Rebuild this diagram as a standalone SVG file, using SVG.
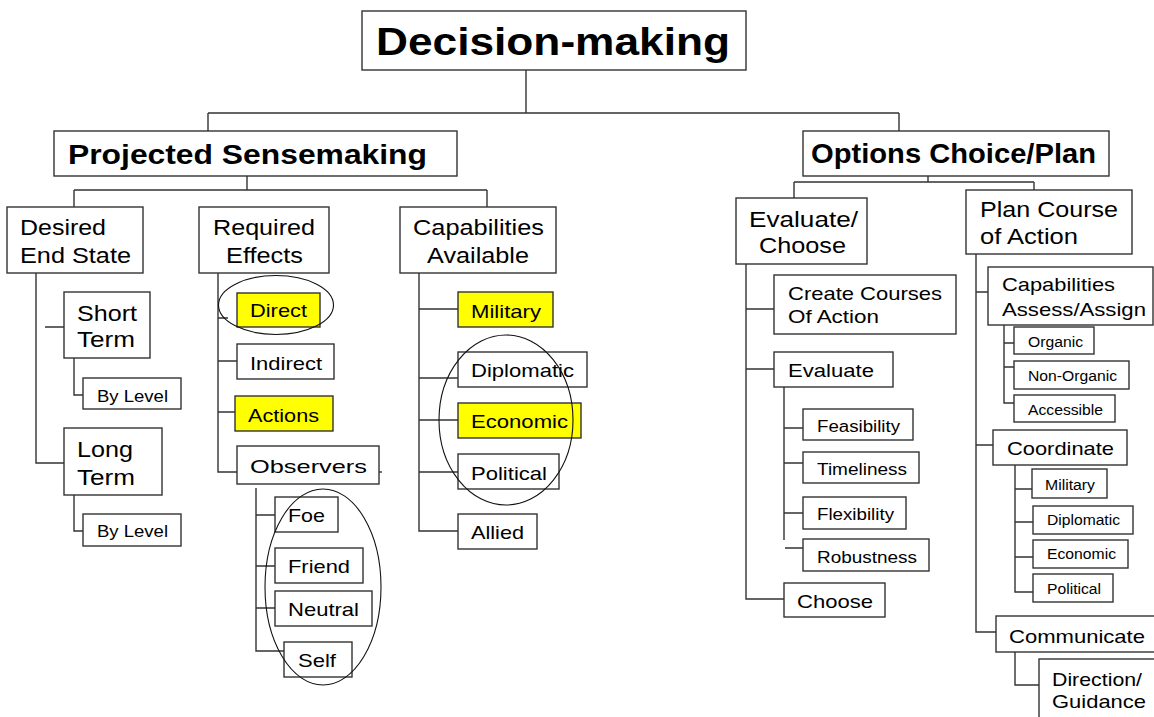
<svg xmlns="http://www.w3.org/2000/svg" width="1154" height="717" viewBox="0 0 1154 717">
  <style>
    .b { fill: #ffffff; stroke: #333333; stroke-width: 1.4; }
    .y { fill: #ffff00; stroke: #333333; stroke-width: 1.4; }
    .ln { fill: none; stroke: #333333; stroke-width: 1.4; }
    .ring { fill: none; stroke: #111111; stroke-width: 1.1; }
    text { font-family: "Liberation Sans", Arial, sans-serif; fill: #000000; }
    .h1 { font-size: 38px; font-weight: bold; }
    .h2 { font-size: 27px; font-weight: bold; }
    .l2 { font-size: 22px; }
    .l3 { font-size: 19px; }
    .l4 { font-size: 16px; }
    .l5 { font-size: 14px; }
  </style>
  <rect width="1154" height="717" fill="#ffffff"/>

  <!-- connectors -->
  <g id="connectors" class="ln">
    <path d="M526,70 V113 M208,113 H899 M208,113 V131 M899,113 V131"/>
    <path d="M247,176 V190 M74,190 H487 M74,190 V207 M487,190 V207"/>
    <path d="M928,176 V182 M794,182 H1034 M794,182 V199 M1034,182 V190"/>
    <!-- Desired End State -->
    <path d="M36,273 V463 H64 M45,327 H64"/>
    <path d="M74,358 V395 H83 M74,495 V531 H83"/>
    <!-- Required Effects -->
    <path d="M218,273 V472 H237 M218,318 H228 M218,361 H237 M218,412 H237"/>
    <path d="M371,472 H382"/>
    <path d="M256,488 V651 H284 M256,515 H275 M256,566 H275 M256,608 H275"/>
    <!-- Capabilities Available -->
    <path d="M419,273 V531 H458 M419,309 H458 M419,378 H458 M419,420 H458 M419,472 H458"/>
    <!-- Evaluate/Choose -->
    <path d="M746,264 V599 H784 M746,309 H774 M746,369 H774"/>
    <path d="M784,387 V540 M784,428 H803 M784,463 H803 M784,513 H803 M785,548 H803"/>
    <!-- Plan Course of Action -->
    <path d="M976,254 V632 H996 M976,292 H988 M976,445 H993"/>
    <path d="M1004,325 V403 H1014 M1004,343 H1014 M1004,367 H1014"/>
    <path d="M1015,465 V592 H1033 M1015,489 H1032 M1015,522 H1033 M1015,557 H1033"/>
    <path d="M1015,652 V685 H1039"/>
  </g>

  <!-- top level -->
  <g id="decision-making">
    <rect class="b" x="362" y="11" width="384" height="59"/>
    <text class="h1" x="376" y="55" textLength="354" lengthAdjust="spacingAndGlyphs">Decision-making</text>
  </g>
  <g id="projected-sensemaking">
    <rect class="b" x="54" y="131" width="403" height="45"/>
    <text class="h2" x="68" y="164" textLength="359" lengthAdjust="spacingAndGlyphs">Projected Sensemaking</text>
  </g>
  <g id="options-choice-plan">
    <rect class="b" x="803" y="131" width="306" height="45"/>
    <text class="h2" x="811" y="163" textLength="285" lengthAdjust="spacingAndGlyphs">Options Choice/Plan</text>
  </g>

  <!-- Projected Sensemaking branch -->
  <g id="desired-end-state">
    <rect class="b" x="7" y="207" width="136" height="66"/>
    <text class="l2" x="20" y="235" textLength="86" lengthAdjust="spacingAndGlyphs">Desired</text>
    <text class="l2" x="20" y="263" textLength="111" lengthAdjust="spacingAndGlyphs">End State</text>
  </g>
  <g id="short-term">
    <rect class="b" x="64" y="292" width="86" height="66"/>
    <text class="l2" x="77" y="321" textLength="60" lengthAdjust="spacingAndGlyphs">Short</text>
    <text class="l2" x="77" y="347" textLength="58" lengthAdjust="spacingAndGlyphs">Term</text>
  </g>
  <g id="short-by-level">
    <rect class="b" x="83" y="378" width="98" height="31"/>
    <text class="l4" x="97" y="402" textLength="71" lengthAdjust="spacingAndGlyphs">By Level</text>
  </g>
  <g id="long-term">
    <rect class="b" x="64" y="428" width="98" height="67"/>
    <text class="l2" x="77" y="457" textLength="56" lengthAdjust="spacingAndGlyphs">Long</text>
    <text class="l2" x="77" y="485" textLength="58" lengthAdjust="spacingAndGlyphs">Term</text>
  </g>
  <g id="long-by-level">
    <rect class="b" x="83" y="514" width="98" height="32"/>
    <text class="l4" x="97" y="537" textLength="71" lengthAdjust="spacingAndGlyphs">By Level</text>
  </g>

  <g id="required-effects">
    <rect class="b" x="199" y="207" width="130" height="66"/>
    <text class="l2" x="213" y="235" textLength="102" lengthAdjust="spacingAndGlyphs">Required</text>
    <text class="l2" x="226" y="263" textLength="77" lengthAdjust="spacingAndGlyphs">Effects</text>
  </g>
  <g id="direct">
    <rect class="y" x="237" y="293" width="83" height="34"/>
    <text class="l3" x="250" y="317" textLength="57" lengthAdjust="spacingAndGlyphs">Direct</text>
  </g>
  <g id="indirect">
    <rect class="b" x="237" y="344" width="97" height="35"/>
    <text class="l3" x="250" y="370" textLength="72" lengthAdjust="spacingAndGlyphs">Indirect</text>
  </g>
  <g id="actions">
    <rect class="y" x="235" y="396" width="98" height="35"/>
    <text class="l3" x="248" y="422" textLength="71" lengthAdjust="spacingAndGlyphs">Actions</text>
  </g>
  <g id="observers">
    <rect class="b" x="237" y="446" width="142" height="38"/>
    <text class="l3" x="250" y="473" textLength="117" lengthAdjust="spacingAndGlyphs">Observers</text>
  </g>
  <g id="foe">
    <rect class="b" x="275" y="497" width="63" height="35"/>
    <text class="l3" x="288" y="522" textLength="37" lengthAdjust="spacingAndGlyphs">Foe</text>
  </g>
  <g id="friend">
    <rect class="b" x="275" y="548" width="88" height="35"/>
    <text class="l3" x="288" y="573" textLength="62" lengthAdjust="spacingAndGlyphs">Friend</text>
  </g>
  <g id="neutral">
    <rect class="b" x="275" y="591" width="97" height="35"/>
    <text class="l3" x="288" y="616" textLength="71" lengthAdjust="spacingAndGlyphs">Neutral</text>
  </g>
  <g id="self">
    <rect class="b" x="284" y="642" width="68" height="35"/>
    <text class="l3" x="298" y="667" textLength="38" lengthAdjust="spacingAndGlyphs">Self</text>
  </g>

  <g id="capabilities-available">
    <rect class="b" x="400" y="207" width="156" height="66"/>
    <text class="l2" x="413" y="235" textLength="131" lengthAdjust="spacingAndGlyphs">Capabilities</text>
    <text class="l2" x="427" y="263" textLength="102" lengthAdjust="spacingAndGlyphs">Available</text>
  </g>
  <g id="cap-military">
    <rect class="y" x="458" y="292" width="95" height="35"/>
    <text class="l3" x="471" y="318" textLength="70" lengthAdjust="spacingAndGlyphs">Military</text>
  </g>
  <g id="cap-diplomatic">
    <rect class="b" x="458" y="352" width="129" height="35"/>
    <text class="l3" x="471" y="377" textLength="103" lengthAdjust="spacingAndGlyphs">Diplomatic</text>
  </g>
  <g id="cap-economic">
    <rect class="y" x="458" y="403" width="123" height="35"/>
    <text class="l3" x="471" y="428" textLength="97" lengthAdjust="spacingAndGlyphs">Economic</text>
  </g>
  <g id="cap-political">
    <rect class="b" x="458" y="454" width="101" height="35"/>
    <text class="l3" x="471" y="480" textLength="76" lengthAdjust="spacingAndGlyphs">Political</text>
  </g>
  <g id="cap-allied">
    <rect class="b" x="458" y="514" width="79" height="35"/>
    <text class="l3" x="471" y="539" textLength="53" lengthAdjust="spacingAndGlyphs">Allied</text>
  </g>

  <!-- Options Choice/Plan branch -->
  <g id="evaluate-choose">
    <rect class="b" x="736" y="198" width="131" height="66"/>
    <text class="l2" x="749" y="227" textLength="109" lengthAdjust="spacingAndGlyphs">Evaluate/</text>
    <text class="l2" x="759" y="253" textLength="87" lengthAdjust="spacingAndGlyphs">Choose</text>
  </g>
  <g id="create-courses">
    <rect class="b" x="774" y="275" width="182" height="59"/>
    <text class="l3" x="788" y="300" textLength="154" lengthAdjust="spacingAndGlyphs">Create Courses</text>
    <text class="l3" x="788" y="323" textLength="91" lengthAdjust="spacingAndGlyphs">Of Action</text>
  </g>
  <g id="evaluate">
    <rect class="b" x="774" y="352" width="119" height="35"/>
    <text class="l3" x="788" y="377" textLength="86" lengthAdjust="spacingAndGlyphs">Evaluate</text>
  </g>
  <g id="feasibility">
    <rect class="b" x="803" y="409" width="110" height="31"/>
    <text class="l4" x="817" y="432" textLength="83" lengthAdjust="spacingAndGlyphs">Feasibility</text>
  </g>
  <g id="timeliness">
    <rect class="b" x="803" y="452" width="116" height="31"/>
    <text class="l4" x="817" y="475" textLength="90" lengthAdjust="spacingAndGlyphs">Timeliness</text>
  </g>
  <g id="flexibility">
    <rect class="b" x="803" y="497" width="103" height="32"/>
    <text class="l4" x="817" y="520" textLength="77" lengthAdjust="spacingAndGlyphs">Flexibility</text>
  </g>
  <g id="robustness">
    <rect class="b" x="803" y="539" width="126" height="32"/>
    <text class="l4" x="817" y="563" textLength="100" lengthAdjust="spacingAndGlyphs">Robustness</text>
  </g>
  <g id="choose">
    <rect class="b" x="784" y="583" width="101" height="34"/>
    <text class="l3" x="797" y="608" textLength="76" lengthAdjust="spacingAndGlyphs">Choose</text>
  </g>

  <g id="plan-course">
    <rect class="b" x="966" y="190" width="166" height="64"/>
    <text class="l2" x="980" y="217" textLength="138" lengthAdjust="spacingAndGlyphs">Plan Course</text>
    <text class="l2" x="980" y="244" textLength="98" lengthAdjust="spacingAndGlyphs">of Action</text>
  </g>
  <g id="capabilities-assess">
    <rect class="b" x="988" y="267" width="165" height="58"/>
    <text class="l3" x="1002" y="291" textLength="113" lengthAdjust="spacingAndGlyphs">Capabilities</text>
    <text class="l3" x="1002" y="316" textLength="144" lengthAdjust="spacingAndGlyphs">Assess/Assign</text>
  </g>
  <g id="organic">
    <rect class="b" x="1014" y="327" width="80" height="27"/>
    <text class="l5" x="1028" y="347" textLength="55" lengthAdjust="spacingAndGlyphs">Organic</text>
  </g>
  <g id="non-organic">
    <rect class="b" x="1014" y="361" width="115" height="28"/>
    <text class="l5" x="1028" y="381" textLength="89" lengthAdjust="spacingAndGlyphs">Non-Organic</text>
  </g>
  <g id="accessible">
    <rect class="b" x="1014" y="395" width="101" height="27"/>
    <text class="l5" x="1028" y="415" textLength="75" lengthAdjust="spacingAndGlyphs">Accessible</text>
  </g>
  <g id="coordinate">
    <rect class="b" x="993" y="430" width="134" height="35"/>
    <text class="l3" x="1007" y="455" textLength="107" lengthAdjust="spacingAndGlyphs">Coordinate</text>
  </g>
  <g id="coord-military">
    <rect class="b" x="1032" y="469" width="75" height="29"/>
    <text class="l5" x="1045" y="490" textLength="50" lengthAdjust="spacingAndGlyphs">Military</text>
  </g>
  <g id="coord-diplomatic">
    <rect class="b" x="1033" y="506" width="100" height="28"/>
    <text class="l5" x="1047" y="525" textLength="73" lengthAdjust="spacingAndGlyphs">Diplomatic</text>
  </g>
  <g id="coord-economic">
    <rect class="b" x="1033" y="540" width="95" height="28"/>
    <text class="l5" x="1047" y="559" textLength="69" lengthAdjust="spacingAndGlyphs">Economic</text>
  </g>
  <g id="coord-political">
    <rect class="b" x="1033" y="574" width="80" height="28"/>
    <text class="l5" x="1047" y="594" textLength="54" lengthAdjust="spacingAndGlyphs">Political</text>
  </g>
  <g id="communicate">
    <rect class="b" x="996" y="616" width="170" height="36"/>
    <text class="l3" x="1009" y="643" textLength="136" lengthAdjust="spacingAndGlyphs">Communicate</text>
  </g>
  <g id="direction-guidance">
    <rect class="b" x="1039" y="659" width="130" height="70"/>
    <text class="l3" x="1052" y="686" textLength="90" lengthAdjust="spacingAndGlyphs">Direction/</text>
    <text class="l3" x="1052" y="708" textLength="94" lengthAdjust="spacingAndGlyphs">Guidance</text>
  </g>

  <!-- hand-drawn emphasis rings -->
  <g id="rings" class="ring">
    <ellipse cx="276" cy="305" rx="57.5" ry="29.5"/>
    <ellipse cx="506" cy="420" rx="67" ry="85"/>
    <ellipse cx="323" cy="587" rx="58" ry="98"/>
  </g>
</svg>
